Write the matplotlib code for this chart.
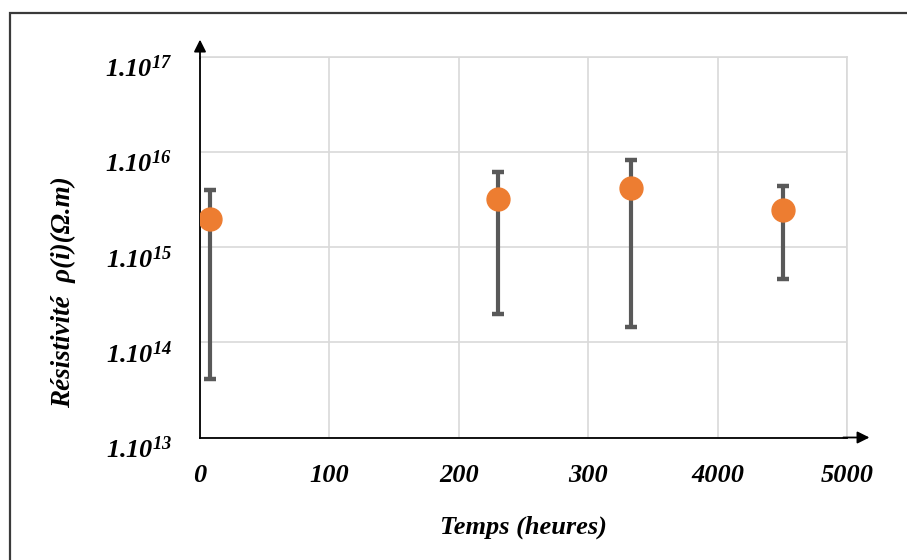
import matplotlib
matplotlib.use("Agg")
import matplotlib.pyplot as plt
import matplotlib.patches as patches
import matplotlib.transforms as mtransforms
import numpy as np

# axis ticks (uneven, as in the original)
tick_hours = [0, 100, 200, 300, 4000, 5000]
tick_labels = ["0", "100", "200", "300", "4000", "5000"]

# measurements
temps = [8, 230, 1520, 4505]
rho = [2.0e15, 3.2e15, 4.2e15, 2.45e15]
rho_high = [4.0e15, 6.2e15, 8.2e15, 4.4e15]
rho_low = [4.1e13, 2.0e14, 1.45e14, 4.6e14]

plt.rcParams['mathtext.fontset'] = 'custom'
plt.rcParams['mathtext.rm'] = 'Liberation Serif:bold:italic'
plt.rcParams['mathtext.it'] = 'Liberation Serif:bold:italic'
plt.rcParams['mathtext.bf'] = 'Liberation Serif:bold:italic'

font = dict(family='Liberation Serif', weight='bold', style='italic')

tick_pos = np.arange(len(tick_hours))


def fwd(x):
    return np.interp(x, tick_hours, tick_pos, left=-1, right=6)


def inv(p):
    return np.interp(p, tick_pos, tick_hours)


fig = plt.figure(figsize=(9.07, 5.6), dpi=100)
ax = fig.add_axes([200 / 907, 1 - 437.5 / 560, 647 / 907, 380.5 / 560])

ax.set_xscale('function', functions=(fwd, inv))
ax.set_yscale('log')
ax.set_xlim(0, 5000)
ax.set_ylim(1e13, 1e17)

rho = np.array(rho)
yerr = [rho - np.array(rho_low), np.array(rho_high) - rho]
ax.errorbar(temps, rho, yerr=yerr, fmt='none', ecolor='#595959',
            elinewidth=3.0, capsize=4.3, capthick=3.2, zorder=3)
ax.plot(temps, rho, 'o', color='#ED7D31', markersize=16.5, zorder=4)

ax.set_xticks(tick_hours)
ax.set_xticklabels(tick_labels)
ax.set_yticks([1e13, 1e14, 1e15, 1e16, 1e17])
ax.set_yticklabels([r'$1.10^{%d}$' % k for k in range(13, 18)])
ax.minorticks_off()
ax.tick_params(axis='both', length=0)
ax.tick_params(axis='x', pad=19)
ax.tick_params(axis='y', pad=20)
for lab in ax.get_xticklabels():
    lab.set_fontproperties(dict(font, size=19))
for lab in ax.get_yticklabels():
    lab.set_fontsize(19)
    lab.set_transform(lab.get_transform() +
                      mtransforms.ScaledTranslation(0, -10 / 100, fig.dpi_scale_trans))

ax.grid(True, color='#D9D9D9', linewidth=1.2)
ax.set_axisbelow(True)
for s in ['top', 'right']:
    ax.spines[s].set_color('#D9D9D9')
    ax.spines[s].set_linewidth(1.2)
for s in ['left', 'bottom']:
    ax.spines[s].set_color('black')
    ax.spines[s].set_linewidth(1.3)

# axis arrows
ax.annotate('', xy=(0, 1.053), xytext=(0, 0.99), xycoords='axes fraction',
            arrowprops=dict(arrowstyle='-|>', color='black', lw=1.3,
                            mutation_scale=18), annotation_clip=False)
ax.annotate('', xy=(1.039, 0), xytext=(0.99, 0), xycoords='axes fraction',
            arrowprops=dict(arrowstyle='-|>', color='black', lw=1.3,
                            mutation_scale=18), annotation_clip=False)

ax.set_xlabel('Temps (heures)', fontsize=19, labelpad=21, **font)
fig.text(63 / 907, 1 - 292 / 560, u'Résistivité  ρ(i)(Ω.m)', rotation=90,
         ha='center', va='center', fontsize=19.5, **font)

# frame around the figure
fig.patches.append(patches.Rectangle((10 / 907, -0.05), 1.0, 1 - 13 / 560 + 0.05,
                                     transform=fig.transFigure, fill=False,
                                     edgecolor='#3a3a3a', linewidth=1.6))

fig.savefig('out.png', dpi=100)
